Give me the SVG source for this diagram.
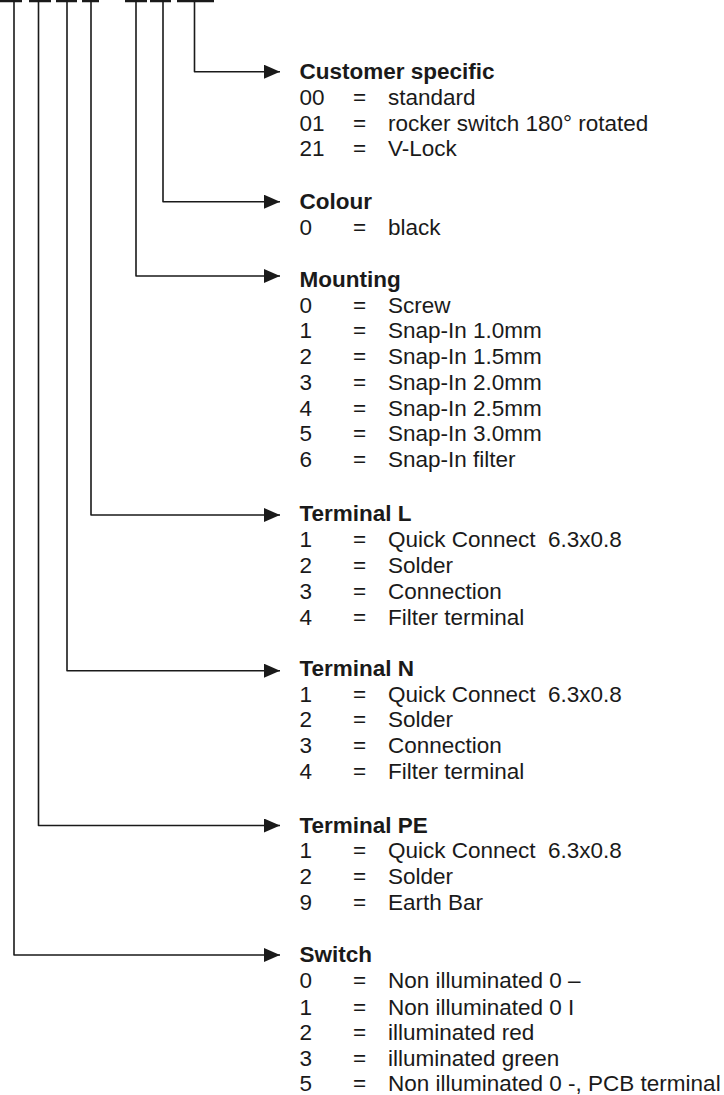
<svg xmlns="http://www.w3.org/2000/svg" width="724" height="1095" viewBox="0 0 724 1095">
<style>
.t{font-family:"Liberation Sans",Arial,sans-serif;font-size:22.5px;fill:#1a1a1a;white-space:pre}
.h{font-weight:bold}
.c{fill:none;stroke:#1a1a1a;stroke-width:1.6;stroke-linejoin:round}
.bar{stroke:#1a1a1a;stroke-width:2.5}
</style>
<defs>
<marker id="ah" markerUnits="userSpaceOnUse" markerWidth="16" markerHeight="14" refX="16" refY="7" orient="auto">
<path d="M0,0 L16,7 L0,14 Z" fill="#1a1a1a"/>
</marker>
</defs>
<g id="code-bars">
<line class="bar" x1="0" y1="1" x2="22" y2="1"/>
<line class="bar" x1="29" y1="1" x2="51" y2="1"/>
<line class="bar" x1="56" y1="1" x2="77" y2="1"/>
<line class="bar" x1="82" y1="1" x2="99" y2="1"/>
<line class="bar" x1="125" y1="1" x2="147" y2="1"/>
<line class="bar" x1="150" y1="1" x2="171" y2="1"/>
<line class="bar" x1="177" y1="1" x2="214" y2="1"/>
</g>
<g id="connectors">
<path class="c" d="M194.5,0 V71.7 H280" marker-end="url(#ah)"/>
<path class="c" d="M163,0 V201.7 H280" marker-end="url(#ah)"/>
<path class="c" d="M136,0 V276 H280" marker-end="url(#ah)"/>
<path class="c" d="M91,0 V515 H280" marker-end="url(#ah)"/>
<path class="c" d="M67,0 V670.7 H280" marker-end="url(#ah)"/>
<path class="c" d="M38.5,0 V825.5 H280" marker-end="url(#ah)"/>
<path class="c" d="M14,0 V955 H280" marker-end="url(#ah)"/>
</g>
<g id="customer-specific" class="t">
<text class="t h" x="299.5" y="78.8">Customer specific</text>
<text class="t" x="299.5" y="105">00</text><text class="t" x="353" y="105">=</text><text class="t" x="388" y="105">standard</text>
<text class="t" x="299.5" y="130.6">01</text><text class="t" x="353" y="130.6">=</text><text class="t" x="388" y="130.6">rocker switch 180° rotated</text>
<text class="t" x="299.5" y="156.3">21</text><text class="t" x="353" y="156.3">=</text><text class="t" x="388" y="156.3">V-Lock</text>
</g>
<g id="colour">
<text class="t h" x="299.5" y="208.8">Colour</text>
<text class="t" x="299.5" y="235">0</text><text class="t" x="353" y="235">=</text><text class="t" x="388" y="235">black</text>
</g>
<g id="mounting">
<text class="t h" x="299.5" y="287">Mounting</text>
<text class="t" x="299.5" y="312.5">0</text><text class="t" x="353" y="312.5">=</text><text class="t" x="388" y="312.5">Screw</text>
<text class="t" x="299.5" y="338.2">1</text><text class="t" x="353" y="338.2">=</text><text class="t" x="388" y="338.2">Snap-In 1.0mm</text>
<text class="t" x="299.5" y="364">2</text><text class="t" x="353" y="364">=</text><text class="t" x="388" y="364">Snap-In 1.5mm</text>
<text class="t" x="299.5" y="389.7">3</text><text class="t" x="353" y="389.7">=</text><text class="t" x="388" y="389.7">Snap-In 2.0mm</text>
<text class="t" x="299.5" y="415.5">4</text><text class="t" x="353" y="415.5">=</text><text class="t" x="388" y="415.5">Snap-In 2.5mm</text>
<text class="t" x="299.5" y="441.2">5</text><text class="t" x="353" y="441.2">=</text><text class="t" x="388" y="441.2">Snap-In 3.0mm</text>
<text class="t" x="299.5" y="467">6</text><text class="t" x="353" y="467">=</text><text class="t" x="388" y="467">Snap-In filter</text>
</g>
<g id="terminal-l">
<text class="t h" x="299.5" y="521">Terminal L</text>
<text class="t" x="299.5" y="546.8">1</text><text class="t" x="353" y="546.8">=</text><text class="t" x="388" y="546.8" xml:space="preserve">Quick Connect  6.3x0.8</text>
<text class="t" x="299.5" y="573">2</text><text class="t" x="353" y="573">=</text><text class="t" x="388" y="573">Solder</text>
<text class="t" x="299.5" y="599">3</text><text class="t" x="353" y="599">=</text><text class="t" x="388" y="599">Connection</text>
<text class="t" x="299.5" y="624.7">4</text><text class="t" x="353" y="624.7">=</text><text class="t" x="388" y="624.7">Filter terminal</text>
</g>
<g id="terminal-n">
<text class="t h" x="299.5" y="675.5">Terminal N</text>
<text class="t" x="299.5" y="701.5">1</text><text class="t" x="353" y="701.5">=</text><text class="t" x="388" y="701.5" xml:space="preserve">Quick Connect  6.3x0.8</text>
<text class="t" x="299.5" y="727.2">2</text><text class="t" x="353" y="727.2">=</text><text class="t" x="388" y="727.2">Solder</text>
<text class="t" x="299.5" y="753">3</text><text class="t" x="353" y="753">=</text><text class="t" x="388" y="753">Connection</text>
<text class="t" x="299.5" y="778.7">4</text><text class="t" x="353" y="778.7">=</text><text class="t" x="388" y="778.7">Filter terminal</text>
</g>
<g id="terminal-pe">
<text class="t h" x="299.5" y="832.5">Terminal PE</text>
<text class="t" x="299.5" y="858.3">1</text><text class="t" x="353" y="858.3">=</text><text class="t" x="388" y="858.3" xml:space="preserve">Quick Connect  6.3x0.8</text>
<text class="t" x="299.5" y="884">2</text><text class="t" x="353" y="884">=</text><text class="t" x="388" y="884">Solder</text>
<text class="t" x="299.5" y="910">9</text><text class="t" x="353" y="910">=</text><text class="t" x="388" y="910">Earth Bar</text>
</g>
<g id="switch">
<text class="t h" x="299.5" y="961.7">Switch</text>
<text class="t" x="299.5" y="988.3">0</text><text class="t" x="353" y="988.3">=</text><text class="t" x="388" y="988.3">Non illuminated 0 –</text>
<text class="t" x="299.5" y="1014.5">1</text><text class="t" x="353" y="1014.5">=</text><text class="t" x="388" y="1014.5">Non illuminated 0 I</text>
<text class="t" x="299.5" y="1040">2</text><text class="t" x="353" y="1040">=</text><text class="t" x="388" y="1040">illuminated red</text>
<text class="t" x="299.5" y="1065.5">3</text><text class="t" x="353" y="1065.5">=</text><text class="t" x="388" y="1065.5">illuminated green</text>
<text class="t" x="299.5" y="1091">5</text><text class="t" x="353" y="1091">=</text><text class="t" x="388" y="1091">Non illuminated 0 -, PCB terminal</text>
</g>
</svg>
